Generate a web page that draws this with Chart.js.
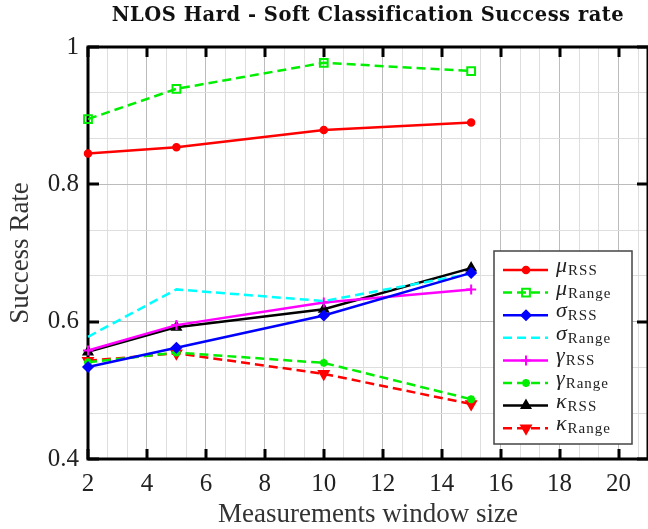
<!DOCTYPE html>
<html>
<head>
<meta charset="utf-8">
<script src="https://cdn.jsdelivr.net/npm/chart.js@4"></script>
<style>
  html, body { margin: 0; padding: 0; background: #fff; }
  canvas { display: block; }
</style>
</head>
<body>
<canvas id="canvas1" width="648" height="529"></canvas>
<script>
// -- data -------------------------------------------------------------------->
// success rate per measurement window size, read off the figure
const windowSizes = [2, 5, 10, 15]
const muRss      = [0.845, 0.854, 0.879, 0.890]
const muRange    = [0.895, 0.939, 0.977, 0.965]
const sigmaRss   = [0.534, 0.562, 0.609, 0.671]
const sigmaRange = [0.578, 0.647, 0.630, 0.670]
const gammaRss   = [0.558, 0.595, 0.628, 0.647]
const gammaRange = [0.541, 0.555, 0.540, 0.487]
const kappaRss   = [0.556, 0.592, 0.618, 0.678]
const kappaRange = [0.543, 0.554, 0.524, 0.480]

// legend text: greek letter + subscript
const legendSymbols = ['μ', 'μ', 'σ', 'σ', 'γ', 'γ', 'κ', 'κ']
const legendSubs = ['RSS', 'Range', 'RSS', 'Range', 'RSS', 'Range', 'RSS', 'Range']

// axis ticks
const xMajor = [2, 4, 6, 8, 10, 12, 14, 16, 18, 20]
const xTickLabels = ['2', '4', '6', '8', '10', '12', '14', '16', '18', '20']
const yMajor = [0.4, 0.6, 0.8, 1]
const yTickLabels = ['0.4', '0.6', '0.8', '1']

const titleText = 'NLOS Hard - Soft Classification Success rate'
const xTitle = 'Measurements window size'
const yTitle = 'Success Rate'

// -- helpers ----------------------------------------------------------------->
const near = (a, b) => Math.abs(a - b) < 1e-6
const majorIndex = (list, v) => list.findIndex(m => near(m, v))

// minor grid: two minor lines between each major tick (like pgfplots minor tick num=2)
const xGrid = []
for (let i = 0; i < xMajor.length; i++) {
    xGrid.push(xMajor[i], xMajor[i] + 2 / 3, xMajor[i] + 4 / 3)
}
const yGrid = []
for (let i = 0; i < yMajor.length; i++) {
    yGrid.push(yMajor[i])
    if (i < yMajor.length - 1) yGrid.push(yMajor[i] + 0.2 / 3, yMajor[i] + 0.4 / 3)
}

const toPoints = arr => arr.map((v, i) => ({ x: windowSizes[i], y: v }))

function series(data, color, opts) {
    return Object.assign({
        data: toPoints(data),
        borderColor: color,
        backgroundColor: color,
        pointBackgroundColor: color,
        pointBorderColor: color,
        borderWidth: 2.5,
        pointBorderWidth: 1.5,
        pointRadius: 4,
        tension: 0,
        clip: false
    }, opts)
}

const dash = [9, 5]
const datasets = [
    series(muRss, '#ff0000', { pointStyle: 'circle', pointRadius: 3.5 }),
    series(muRange, '#00ee00', { borderDash: dash, pointStyle: 'rect', pointRadius: 5.5, pointBackgroundColor: 'rgba(0,0,0,0)', pointBorderWidth: 2 }),
    series(sigmaRss, '#0000ff', { pointStyle: 'rectRot', pointRadius: 5 }),
    series(sigmaRange, '#00ffff', { borderDash: dash, pointRadius: 0 }),
    series(gammaRss, '#ff00ff', { pointStyle: 'cross', pointRadius: 5, pointBorderWidth: 2 }),
    series(gammaRange, '#00ee00', { borderDash: dash, pointStyle: 'star', pointRadius: 4, pointBorderWidth: 2.5 }),
    series(kappaRss, '#000000', { pointStyle: 'triangle', pointRadius: 5.5 }),
    series(kappaRange, '#ff0000', { borderDash: dash, pointStyle: 'triangle', pointRotation: 180, pointRadius: 6 })
]

// -- frame, titles and legend ------------------------------------------------>
const serif = '"Liberation Serif", "DejaVu Serif", serif'

const framePlugin = {
    id: 'frame',
    beforeDatasetsDraw(chart) {
        const { ctx, chartArea: a, scales: { x, y } } = chart
        ctx.save()
        ctx.strokeStyle = '#000'
        ctx.lineWidth = 3
        ctx.beginPath()
        xMajor.forEach(v => {
            const px = Math.round(x.getPixelForValue(v))
            ctx.moveTo(px, a.bottom); ctx.lineTo(px, a.bottom - 10)
            ctx.moveTo(px, a.top); ctx.lineTo(px, a.top + 10)
        })
        yMajor.forEach(v => {
            const py = Math.round(y.getPixelForValue(v))
            ctx.moveTo(a.left, py); ctx.lineTo(a.left + 11, py)
            ctx.moveTo(a.right, py); ctx.lineTo(a.right - 11, py)
        })
        ctx.stroke()
        ctx.strokeRect(a.left, a.top, a.right - a.left, a.bottom - a.top)
        ctx.restore()
    },
    afterDraw(chart) {
        const { ctx, chartArea: a } = chart
        const cx = (a.left + a.right) / 2
        ctx.save()
        ctx.fillStyle = '#111'
        ctx.textAlign = 'center'
        ctx.textBaseline = 'alphabetic'
        ctx.font = 'bold 19.5px "DejaVu Serif", serif'
        ctx.letterSpacing = '0.5px'
        ctx.fillText(titleText, cx, 21)
        ctx.letterSpacing = '0px'

        ctx.fillStyle = '#333'
        ctx.font = '27px ' + serif
        ctx.fillText(xTitle, cx, 522)

        ctx.save()
        ctx.translate(28, (a.top + a.bottom) / 2)
        ctx.rotate(-Math.PI / 2)
        ctx.fillText(yTitle, 0, 0)
        ctx.restore()

        // legend box
        const box = { left: 494, top: 251, right: 632, bottom: 444 }
        ctx.fillStyle = '#fff'
        ctx.fillRect(box.left, box.top, box.right - box.left, box.bottom - box.top)
        ctx.strokeStyle = '#444'
        ctx.lineWidth = 1.5
        ctx.strokeRect(box.left, box.top, box.right - box.left, box.bottom - box.top)

        const rowH = 22.6
        chart.data.datasets.forEach((ds, i) => {
            const ry = 270 + i * rowH
            ctx.save()
            ctx.strokeStyle = ds.borderColor
            ctx.lineWidth = ds.borderWidth
            ctx.setLineDash(ds.borderDash || [])
            ctx.beginPath()
            ctx.moveTo(503, ry); ctx.lineTo(548, ry)
            ctx.stroke()
            ctx.setLineDash([])
            if (ds.pointRadius > 0) {
                ctx.fillStyle = ds.pointBackgroundColor
                ctx.strokeStyle = ds.pointBorderColor
                ctx.lineWidth = ds.pointBorderWidth
                Chart.helpers.drawPoint(ctx, {
                    pointStyle: ds.pointStyle,
                    radius: ds.pointRadius,
                    rotation: ds.pointRotation || 0,
                    borderWidth: ds.pointBorderWidth
                }, 526, ry)
            }
            ctx.restore()

            ctx.fillStyle = '#222'
            ctx.textAlign = 'left'
            ctx.font = 'italic 22px ' + serif
            ctx.fillText(legendSymbols[i], 556, ry + 2)
            const w = ctx.measureText(legendSymbols[i]).width
            ctx.font = '15px ' + serif
            ctx.letterSpacing = '1px'
            ctx.fillText(legendSubs[i], 556 + w + 1, ry + 5)
            ctx.letterSpacing = '0px'
        })
        ctx.restore()
    }
}

// -- chart ------------------------------------------------------------------->
const ctx1 = document.getElementById('canvas1')

new Chart(ctx1, {
    type: 'line',
    data: { datasets },
    options: {
        responsive: false,
        animation: false,
        layout: { autoPadding: false, padding: { top: 47, left: 0, right: 0, bottom: 0 } },
        plugins: {
            legend: { display: false },
            tooltip: { enabled: false },
            title: { display: false }
        },
        scales: {
            x: {
                type: 'linear',
                min: 2,
                max: 21,
                afterBuildTicks: scale => { scale.ticks = xGrid.map(v => ({ value: v })) },
                afterFit: scale => {
                    scale.height = 70
                    scale.paddingLeft = 0
                    scale.paddingRight = 0
                },
                border: { display: false },
                grid: {
                    drawTicks: false,
                    color: c => majorIndex(xMajor, c.tick.value) >= 0 ? '#bcbcbc' : '#dedede'
                },
                ticks: {
                    autoSkip: false,
                    maxRotation: 0,
                    padding: 10,
                    color: '#222',
                    font: { family: serif, size: 25 },
                    callback: v => {
                        const k = majorIndex(xMajor, v)
                        return k >= 0 ? xTickLabels[k] : ''
                    }
                }
            },
            y: {
                min: 0.4,
                max: 1,
                afterBuildTicks: scale => { scale.ticks = yGrid.map(v => ({ value: v })) },
                afterFit: scale => {
                    scale.width = 88
                    scale.paddingTop = 0
                    scale.paddingBottom = 0
                },
                border: { display: false },
                grid: {
                    drawTicks: false,
                    color: c => majorIndex(yMajor, c.tick.value) >= 0 ? '#bcbcbc' : '#dedede'
                },
                ticks: {
                    autoSkip: false,
                    padding: 9,
                    color: '#222',
                    font: { family: serif, size: 25 },
                    callback: v => {
                        const k = majorIndex(yMajor, v)
                        return k >= 0 ? yTickLabels[k] : ''
                    }
                }
            }
        }
    },
    plugins: [framePlugin]
})
</script>
</body>
</html>
